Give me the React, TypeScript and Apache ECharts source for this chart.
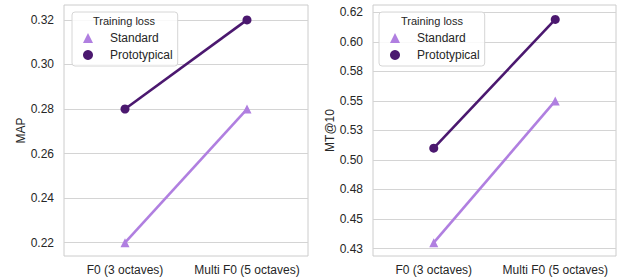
import React, { useEffect, useRef } from 'react';
import * as echarts from 'echarts';

const categories = ['F0 (3 octaves)', 'Multi F0 (5 octaves)'];
const seriesNames = ['Standard', 'Prototypical'];
const legendTitle = 'Training loss';

const mapStandard = [0.22, 0.28];
const mapPrototypical = [0.28, 0.32];
const mtStandard = [0.43, 0.55];
const mtPrototypical = [0.51, 0.619];

const mapTicks = [0.22, 0.24, 0.26, 0.28, 0.3, 0.32];
const mapTickLabels = ['0.22', '0.24', '0.26', '0.28', '0.30', '0.32'];
const mtTicks = [0.425, 0.45, 0.475, 0.5, 0.525, 0.55, 0.575, 0.6, 0.625];
const mtTickLabels = ['0.43', '0.45', '0.48', '0.50', '0.53', '0.55', '0.58', '0.60', '0.62'];

const LIGHT = '#b07fe0';
const DARK = '#4b186f';
const TEXT = '#262626';
const GRIDC = '#d4d4d4';
const FONT = "'Liberation Sans', Arial, sans-serif";

function labelFor(ticks: number[], labels: string[]) {
  return (v: number) => {
    let best = 0;
    for (let i = 1; i < ticks.length; i++) {
      if (Math.abs(ticks[i] - v) < Math.abs(ticks[best] - v)) best = i;
    }
    return labels[best];
  };
}

export default function App() {
  const ref = useRef<HTMLDivElement>(null);
  useEffect(() => {
    if (!ref.current) return;
    const chart = echarts.init(ref.current, null, { renderer: 'svg' });
    const mkX = (gridIndex: number) => ({
      type: 'category',
      gridIndex,
      data: categories,
      boundaryGap: true,
      axisLine: { show: false },
      axisTick: { show: false },
      splitLine: { show: false },
      axisLabel: { color: TEXT, fontSize: 12, fontFamily: FONT, margin: 8, interval: 0, hideOverlap: false },
    });
    const mkY = (gridIndex: number, min: number, max: number, name: string, ticks: number[], labels: string[]) => ({
      type: 'value',
      gridIndex,
      min,
      max,
      name,
      nameLocation: 'middle',
      nameGap: 36,
      nameTextStyle: { color: TEXT, fontSize: 12, fontFamily: FONT },
      axisLine: { show: false },
      axisTick: { show: false, customValues: ticks },
      axisLabel: {
        color: TEXT,
        fontSize: 12,
        fontFamily: FONT,
        margin: 10,
        customValues: ticks,
        formatter: labelFor(ticks, labels),
      },
      splitLine: { show: true, lineStyle: { color: GRIDC, width: 1 } },
    });
    const mkLegend = (left: number) => ({
      left,
      top: 12,
      orient: 'vertical',
      itemWidth: 10,
      itemHeight: 10,
      itemGap: 3,
      padding: [19, 5, 4, 11],
      backgroundColor: 'rgba(255,255,255,0.85)',
      borderColor: '#d6d6d6',
      borderWidth: 1,
      borderRadius: 3,
      selectedMode: false,
      textStyle: { color: TEXT, fontSize: 12, fontFamily: FONT, lineHeight: 14, padding: [0, 0, 0, 12] },
      data: [
        { name: seriesNames[0], icon: 'triangle', itemStyle: { color: LIGHT } },
        { name: seriesNames[1], icon: 'circle', itemStyle: { color: DARK } },
      ],
    });
    const mkSeries = (name: string, data: number[], idx: number, color: string, symbol: string) => ({
      type: 'line',
      name,
      data,
      xAxisIndex: idx,
      yAxisIndex: idx,
      symbol,
      symbolSize: 9,
      showSymbol: true,
      lineStyle: { color, width: 2.6 },
      itemStyle: { color },
      z: 3,
    });
    chart.setOption({
      animation: false,
      backgroundColor: '#ffffff',
      grid: [
        { left: 64, top: 5, width: 244, height: 251, show: true, borderColor: '#cccccc', borderWidth: 1, backgroundColor: 'transparent' },
        { left: 373, top: 5, width: 243, height: 251, show: true, borderColor: '#cccccc', borderWidth: 1, backgroundColor: 'transparent' },
      ],
      xAxis: [mkX(0), mkX(1)],
      yAxis: [
        mkY(0, 0.214, 0.3267, 'MAP', mapTicks, mapTickLabels),
        mkY(1, 0.4187, 0.6312, 'MT@10', mtTicks, mtTickLabels),
      ],
      legend: [mkLegend(72), mkLegend(379)],
      graphic: [
        { type: 'text', z: 100, style: { text: legendTitle, x: 124, y: 21, textAlign: 'center', textVerticalAlign: 'middle', fill: TEXT, font: `11px ${FONT}` } },
        { type: 'text', z: 100, style: { text: legendTitle, x: 432, y: 21, textAlign: 'center', textVerticalAlign: 'middle', fill: TEXT, font: `11px ${FONT}` } },
      ],
      series: [
        mkSeries(seriesNames[0], mapStandard, 0, LIGHT, 'triangle'),
        mkSeries(seriesNames[1], mapPrototypical, 0, DARK, 'circle'),
        mkSeries(seriesNames[0], mtStandard, 1, LIGHT, 'triangle'),
        mkSeries(seriesNames[1], mtPrototypical, 1, DARK, 'circle'),
      ],
    });
    return () => chart.dispose();
  }, []);
  return <div ref={ref} style={{ position: 'absolute', left: 0, top: 0, width: 622, height: 280 }} />;
}
